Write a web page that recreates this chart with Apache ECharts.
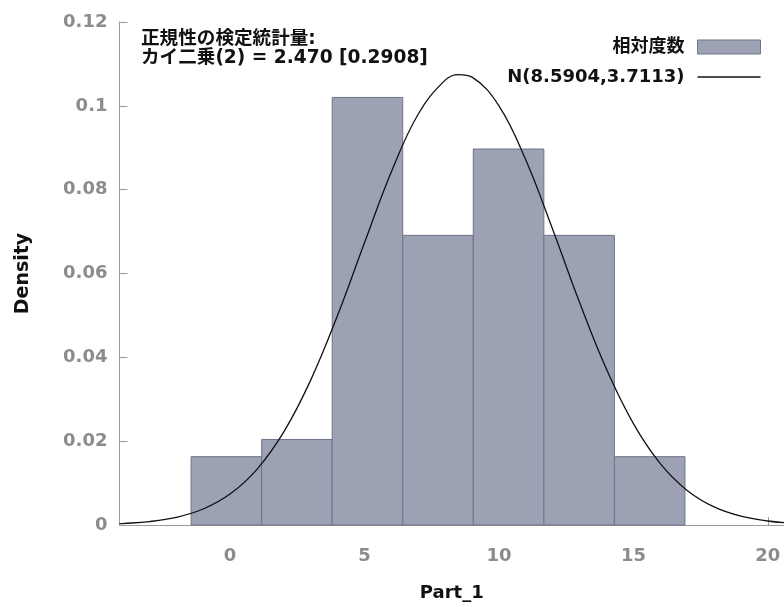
<!DOCTYPE html>
<html>
<head>
<meta charset="utf-8">
<script src="https://cdn.jsdelivr.net/npm/echarts@6/dist/echarts.min.js"></script>
<style>
html,body{margin:0;padding:0;background:#fff;}
#chart{width:784px;height:607px;}
</style>
</head>
<body>
<div id="chart"></div>
<script>
// ---- data ----
const binCenters = [-0.136, 2.488, 5.111, 7.735, 10.358, 12.982, 15.605];
const binWidth = 2.6235;
const densities = [0.0163, 0.0204, 0.1020, 0.0691, 0.0897, 0.0691, 0.0163];
const curveX = [-4.11, -4, -3, -2, -1, 0, 1, 2, 3, 4, 5, 6, 7, 8, 8.5, 9, 10, 11, 12, 13, 14, 15, 16, 17, 18, 19, 20, 20.6];
const curveY = [0.000308, 0.000341, 0.000820, 0.001833, 0.003814, 0.007379, 0.013277, 0.022214, 0.034567, 0.050021, 0.067320, 0.084255, 0.098060, 0.10614, 0.10746, 0.10684, 0.10001, 0.087063, 0.070486, 0.053068, 0.037154, 0.024192, 0.014651, 0.008250, 0.004321, 0.002104, 0.000953, 0.000572];
const xTicks = [0, 5, 10, 15, 20];
const yTicks = [0, 0.02, 0.04, 0.06, 0.08, 0.1, 0.12];
const histName = '相対度数';
const curveName = 'N(8.5904,3.7113)';
const noteText = '正規性の検定統計量:\nカイ二乗(2) = 2.470 [0.2908]';
const xName = 'Part_1';
const yName = 'Density';

const FONT = "'DejaVu Sans', 'Noto Sans CJK JP', sans-serif";
const barFill = '#9ca2b4';
const barBorder = '#6f7488';

const histData = binCenters.map((c, i) => [c - binWidth / 2, c + binWidth / 2, densities[i]]);
const curveData = curveX.map((x, i) => [x, curveY[i]]);

const chart = echarts.init(document.getElementById('chart'), null, {renderer: 'canvas'});
chart.setOption({
  animation: false,
  backgroundColor: '#fff',
  textStyle: {fontFamily: FONT},
  grid: {left: 119.5, right: 0, top: 22, bottom: 82, containLabel: false},
  title: {
    text: noteText,
    left: 141, top: 30, padding: 0,
    textStyle: {fontFamily: FONT, fontSize: 18.6, fontWeight: 'bold', color: '#111', lineHeight: 18.5}
  },
  legend: {
    orient: 'vertical',
    right: 18, top: 33,
    align: 'right',
    itemWidth: 63, itemHeight: 14, itemGap: 12,
    textStyle: {fontFamily: FONT, fontSize: 18, fontWeight: 'bold', color: '#111', padding: [0, 8, 0, 0]},
    data: [
      {name: histName, icon: 'rect', itemStyle: {color: barFill, borderColor: barBorder, borderWidth: 1}},
      {name: curveName, icon: 'path://M0,0 L63,0 L63,1.3 L0,1.3 Z', itemStyle: {color: '#111'}}
    ]
  },
  xAxis: {
    type: 'value',
    min: -4.11, max: 20.6,
    name: xName, nameLocation: 'middle', nameGap: 59,
    nameTextStyle: {fontFamily: FONT, fontSize: 18, fontWeight: 'bold', color: '#111'},
    axisLine: {show: true, onZero: false, lineStyle: {color: '#9a9a9a', width: 1}},
    axisTick: {show: true, inside: true, length: 8, customValues: xTicks, lineStyle: {color: '#9a9a9a'}},
    axisLabel: {customValues: xTicks, margin: 22, fontFamily: FONT, fontSize: 18, fontWeight: 'bold', color: '#8c8c8c'},
    splitLine: {show: false}
  },
  yAxis: {
    type: 'value',
    min: 0, max: 0.12, interval: 0.02,
    name: yName, nameLocation: 'middle', nameGap: 87, nameRotate: 90,
    nameTextStyle: {fontFamily: FONT, fontSize: 19, fontWeight: 'bold', color: '#111'},
    axisLine: {show: true, onZero: false, lineStyle: {color: '#9a9a9a', width: 1}},
    axisTick: {show: true, inside: true, length: 8, customValues: yTicks, lineStyle: {color: '#9a9a9a'}},
    axisLabel: {customValues: yTicks, margin: 12, fontFamily: FONT, fontSize: 18, fontWeight: 'bold', color: '#8c8c8c'},
    splitLine: {show: false}
  },
  series: [
    {
      name: histName,
      type: 'custom',
      itemStyle: {color: barFill, borderColor: barBorder},
      encode: {x: [0, 1], y: 2},
      data: histData,
      renderItem: function (params, api) {
        const p0 = api.coord([api.value(0), api.value(2)]);
        const p1 = api.coord([api.value(1), 0]);
        return {
          type: 'rect',
          shape: {x: p0[0], y: p0[1], width: p1[0] - p0[0], height: p1[1] - p0[1]},
          style: {fill: barFill, stroke: barBorder, lineWidth: 1}
        };
      },
      z: 2
    },
    {
      name: curveName,
      type: 'line',
      data: curveData,
      smooth: 0.4,
      symbol: 'none',
      showSymbol: false,
      clip: true,
      lineStyle: {color: '#111', width: 1.3},
      itemStyle: {color: '#111'},
      z: 3
    }
  ]
});
</script>
</body>
</html>
